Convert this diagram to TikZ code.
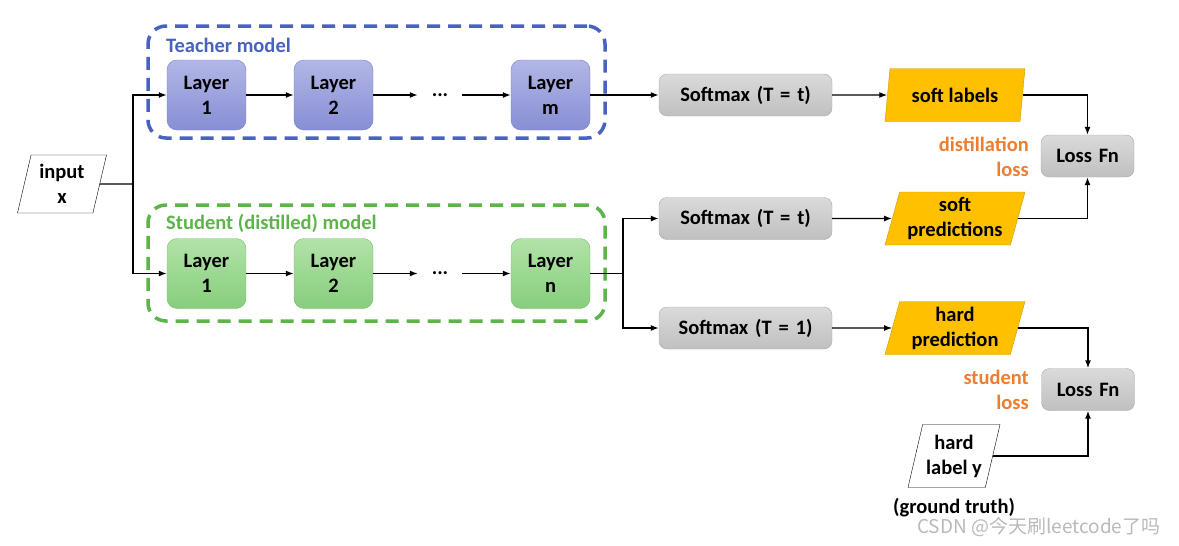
\documentclass[tikz,border=0pt]{standalone}
\usepackage{fontspec}
\setmainfont{Carlito}
\newfontfamily\cjkfont{Noto Sans CJK SC}
\usepackage{tikz}
\usetikzlibrary{shapes, shapes.geometric, arrows, arrows.meta, calc}
\definecolor{teacherblue}{RGB}{72,98,192}
\definecolor{studentgreen}{RGB}{92,180,74}
\definecolor{lossorange}{RGB}{237,125,49}
\definecolor{outyellow}{RGB}{255,192,0}
\newcommand{\diagfont}{\fontsize{20.5}{25}\selectfont\bfseries}
\tikzstyle{tlayer} = [rectangle, rounded corners=10pt, draw={rgb,255:red,115;green,125;blue,198},
    top color={rgb,255:red,178;green,183;blue,230}, bottom color={rgb,255:red,135;green,142;blue,212},
    text width=79pt, text centered, inner sep=0pt, minimum height=70pt, font=\diagfont]
\tikzstyle{slayer} = [rectangle, rounded corners=10pt, draw={rgb,255:red,120;green,190;blue,108},
    top color={rgb,255:red,178;green,226;blue,168}, bottom color={rgb,255:red,135;green,206;blue,124},
    text width=79pt, text centered, inner sep=0pt, minimum height=70pt, font=\diagfont]
\tikzstyle{softmax} = [rectangle, rounded corners=8pt, draw={rgb,255:red,170;green,170;blue,170},
    top color={rgb,255:red,218;green,218;blue,218}, bottom color={rgb,255:red,192;green,192;blue,192},
    text width=173pt, text centered, inner sep=0pt, minimum height=42pt, font=\diagfont]
\tikzstyle{lossfn} = [softmax, text width=93pt]
\tikzstyle{dataio} = [trapezium, trapezium left angle=71, trapezium right angle=109,
    trapezium stretches body, draw, fill=white, align=center, inner sep=0pt, font=\diagfont]
\tikzstyle{output} = [dataio, draw={rgb,255:red,205;green,152;blue,0}, fill=outyellow,
    minimum width=140pt, minimum height=53pt]
\tikzstyle{dots} = [minimum width=44pt, inner sep=0pt, font=\diagfont]
\tikzstyle{groupbox} = [rectangle, rounded corners=18pt, line width=3.5pt, dash pattern=on 13pt off 8pt]
\tikzstyle{losstext} = [align=right, inner sep=0pt, text=lossorange, font=\diagfont]
\tikzstyle{line} = [draw, line width=1.3pt, -{Latex[length=8pt, width=6pt]}]
\tikzstyle{wire} = [draw, line width=1.3pt]

\begin{document}
\begin{tikzpicture}[x=1pt, y=-1pt, node distance=127pt, auto]
    \useasboundingbox (0,0) rectangle (1179,546);
    % Groups
    \node [groupbox, draw=teacherblue, minimum width=457pt, minimum height=112pt] (tbox) at (376.5,82) {};
    \node [groupbox, draw=studentgreen, minimum width=457pt, minimum height=116pt] (sbox) at (376.5,263) {};
    \node [anchor=west, inner sep=0pt, text=teacherblue, font=\diagfont] (ttitle) at (166,45) {Teacher model};
    \node [anchor=west, inner sep=0pt, text=studentgreen, font=\diagfont] (stitle) at (166,223) {Student (distilled) model};

    % Nodes
    \node [dataio, minimum width=89pt, minimum height=58pt] (input) at (62,184) {input\\x};
    \coordinate (isplit) at (133,184);
    \node [tlayer] (tl1) at (206.5,95) {Layer\\1};
    \node [tlayer, right of=tl1] (tl2) {Layer\\2};
    \node [dots, right of=tl2, node distance=106.5pt] (tdots) {...};
    \node [tlayer, right of=tdots, node distance=110.5pt] (tlm) {Layer\\m};
    \node [slayer] (sl1) at (206.5,273.5) {Layer\\1};
    \node [slayer, right of=sl1] (sl2) {Layer\\2};
    \node [dots, right of=sl2, node distance=106.5pt] (sdots) {...};
    \node [slayer, right of=sdots, node distance=110.5pt] (sln) {Layer\\n};
    \coordinate (osplit) at (623,273.5);

    \node [softmax, right of=tlm, node distance=195pt] (sm1) {Softmax (T = t)};
    \node [softmax] (sm2) at (745.5,218.5) {Softmax (T = t)};
    \node [softmax] (sm3) at (745.5,328) {Softmax (T = 1)};
    \node [output, right of=sm1, node distance=209.5pt] (softlabels) {soft labels};
    \node [output, right of=sm2, node distance=209.5pt] (softpred) {soft\\predictions};
    \node [output, right of=sm3, node distance=209.5pt] (hardpred) {hard\\prediction};
    \node [dataio, minimum width=92pt, minimum height=63pt] (hardlabel) at (954,456) {hard\\label y};
    \node [below of=hardlabel, node distance=52pt, inner sep=0pt, font=\diagfont] (truth) {(ground truth)};

    \node [lossfn] (loss1) at (1087.5,156) {Loss Fn};
    \node [lossfn] (loss2) at (1088,389.5) {Loss Fn};
    \node [losstext, anchor=east] (dloss) at (1029,157) {distillation\\loss};
    \node [losstext, anchor=east] (sloss) at (1029,389.5) {student\\loss};

    \node [anchor=west, inner sep=0pt, text={rgb,255:red,185;green,185;blue,185}, font=\cjkfont\fontsize{19}{22}\selectfont] (mark) at (917,527) {CSDN @今天刷leetcode了吗};

    % Edges
    \path [wire] (input) -- (isplit);
    \path [line] (isplit) |- (tl1);
    \path [line] (isplit) |- (sl1);
    \path [line] (tl1) -- (tl2);
    \path [line] (tl2) -- (tdots);
    \path [line] (tdots) -- (tlm);
    \path [line] (sl1) -- (sl2);
    \path [line] (sl2) -- (sdots);
    \path [line] (sdots) -- (sln);
    \path [line] (tlm) -- (sm1);
    \path [wire] (sln) -- (osplit);
    \path [line] (osplit) |- (sm2);
    \path [line] (osplit) |- (sm3);
    \path [line] (sm1) -- (softlabels);
    \path [line] (sm2) -- (softpred);
    \path [line] (sm3) -- (hardpred);
    \path [line] (softlabels) -| (loss1);
    \path [line] (softpred) -| (loss1);
    \path [line] (hardpred) -| (loss2);
    \path [line] (hardlabel) -| (loss2);
\end{tikzpicture}
\end{document}
